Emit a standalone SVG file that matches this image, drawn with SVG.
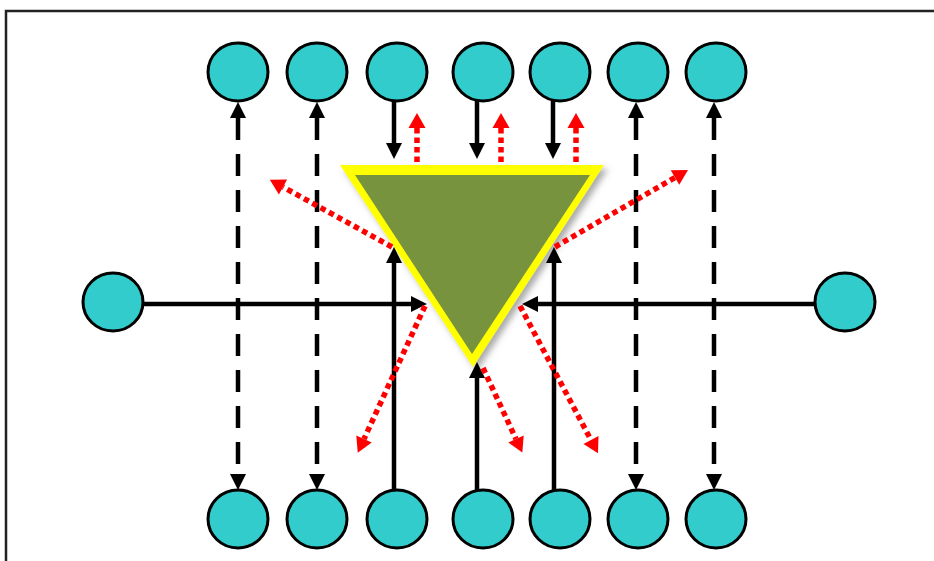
<svg xmlns="http://www.w3.org/2000/svg" width="934" height="561" viewBox="0 0 934 561">
<style>
.node{fill:#33CCCC;stroke:#000;stroke-width:3}
.solid{stroke:#000;stroke-width:4.5;fill:none;marker-end:url(#ab)}
.dash{stroke:#000;stroke-width:4.5;fill:none;stroke-dasharray:22 14;marker-start:url(#ab);marker-end:url(#ab)}
.dot{stroke:#FF0000;stroke-width:5.5;fill:none;stroke-dasharray:5.5 4;marker-end:url(#ar)}
</style>
<defs>
<marker id="ab" markerUnits="userSpaceOnUse" viewBox="0 -9 17 18" refX="0" refY="0" markerWidth="17" markerHeight="18" orient="auto-start-reverse" overflow="visible">
<path d="M0,-8 L16,0 L0,8 z" fill="#000"/>
</marker>
<marker id="ar" markerUnits="userSpaceOnUse" viewBox="0 -9 17 18" refX="0" refY="0" markerWidth="17" markerHeight="18" orient="auto" overflow="visible">
<path d="M0,-8.5 L15,0 L0,8.5 z" fill="#FF0000"/>
</marker>
<filter id="sh" x="-20%" y="-20%" width="140%" height="140%">
<feDropShadow dx="4" dy="4" stdDeviation="3" flood-color="#555" flood-opacity="0.5"/>
</filter>
</defs>
<rect width="934" height="561" fill="#fff"/>
<path d="M6,561 L6,11 L934,11" fill="none" stroke="#222" stroke-width="2.5"/>
<g id="triangle" filter="url(#sh)">
<polygon points="340,165 604,165 473,367" fill="#FFFF00"/>
<polygon points="355,175 590,175 472,354" fill="#77933C"/>
</g>
<g id="connectors">
<line class="dash" x1="238" y1="118" x2="238" y2="474"/>
<line class="dash" x1="317" y1="118" x2="317" y2="474"/>
<line class="dash" x1="636" y1="118" x2="636" y2="474"/>
<line class="dash" x1="714" y1="118" x2="714" y2="474"/>
<line class="solid" x1="394" y1="101" x2="394" y2="143"/>
<line class="solid" x1="477" y1="101" x2="477" y2="143"/>
<line class="solid" x1="553" y1="101" x2="553" y2="143"/>
<line class="dot" x1="417" y1="162" x2="417" y2="128"/>
<line class="dot" x1="501" y1="162" x2="501" y2="128"/>
<line class="dot" x1="576" y1="162" x2="576" y2="128"/>
<line class="solid" x1="143" y1="304" x2="411" y2="304"/>
<line class="solid" x1="815" y1="304" x2="538" y2="304"/>
<line class="solid" x1="394" y1="491" x2="394" y2="263"/>
<line class="solid" x1="477" y1="491" x2="477" y2="378"/>
<line class="solid" x1="554" y1="491" x2="554" y2="263"/>
<line class="dot" x1="392" y1="247" x2="283" y2="187"/>
<line class="dot" x1="555" y1="247" x2="675" y2="177.5"/>
<line class="dot" x1="425" y1="306" x2="364" y2="439"/>
<line class="dot" x1="520" y1="306" x2="591" y2="440"/>
<line class="dot" x1="483" y1="368" x2="516" y2="439"/>
</g>
<g id="t1"><ellipse class="node" cx="238" cy="72" rx="30" ry="29"/></g>
<g id="t2"><ellipse class="node" cx="317" cy="72" rx="30" ry="29"/></g>
<g id="t3"><ellipse class="node" cx="397" cy="72" rx="30" ry="29"/></g>
<g id="t4"><ellipse class="node" cx="483" cy="72" rx="30" ry="29"/></g>
<g id="t5"><ellipse class="node" cx="560" cy="72" rx="30" ry="29"/></g>
<g id="t6"><ellipse class="node" cx="638" cy="72" rx="30" ry="29"/></g>
<g id="t7"><ellipse class="node" cx="716" cy="72" rx="30" ry="29"/></g>
<g id="b1"><ellipse class="node" cx="238" cy="519" rx="30" ry="29"/></g>
<g id="b2"><ellipse class="node" cx="317" cy="519" rx="30" ry="29"/></g>
<g id="b3"><ellipse class="node" cx="397" cy="519" rx="30" ry="29"/></g>
<g id="b4"><ellipse class="node" cx="483" cy="519" rx="30" ry="29"/></g>
<g id="b5"><ellipse class="node" cx="560" cy="519" rx="30" ry="29"/></g>
<g id="b6"><ellipse class="node" cx="638" cy="519" rx="30" ry="29"/></g>
<g id="b7"><ellipse class="node" cx="716" cy="519" rx="30" ry="29"/></g>
<g id="left"><ellipse class="node" cx="113" cy="302" rx="30" ry="29"/></g>
<g id="right"><ellipse class="node" cx="845" cy="302" rx="30" ry="29"/></g>
</svg>
